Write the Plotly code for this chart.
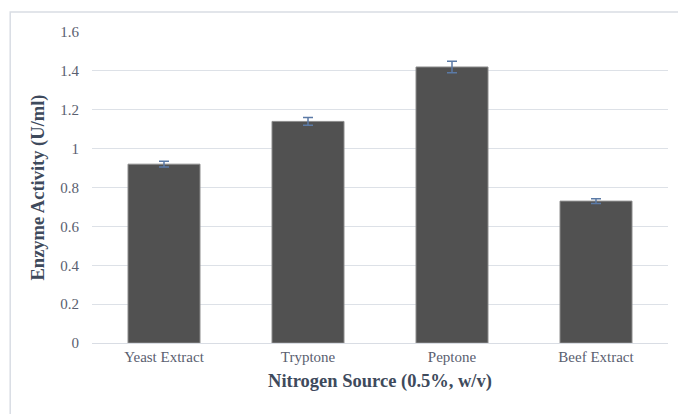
import plotly.graph_objects as go

categories = ["Yeast Extract", "Tryptone", "Peptone", "Beef Extract"]
activity = [0.92, 1.14, 1.42, 0.73]
errors = [0.015, 0.02, 0.03, 0.012]
y_ticks = [0, 0.2, 0.4, 0.6, 0.8, 1, 1.2, 1.4, 1.6]

font_family = "Liberation Serif, Times New Roman, serif"
text_color = "#5a6070"
title_color = "#3e4a5c"

fig = go.Figure()
fig.add_trace(go.Bar(
    x=categories, y=activity,
    marker=dict(color="#515151", line=dict(color="#8c8c8c", width=1)),
    width=0.5,
    error_y=dict(type="data", array=errors, visible=True,
                 color="#5b7aa6", thickness=1.5, width=5),
))

fig.update_layout(
    width=678, height=414,
    margin=dict(l=92, r=10, t=32, b=71),
    paper_bgcolor="white", plot_bgcolor="white",
    font=dict(family=font_family, color=text_color, size=15),
    showlegend=False,
    bargap=0.5,
    xaxis=dict(
        title=dict(text="<b>Nitrogen Source (0.5%, w/v)</b>",
                   font=dict(size=18.5, color=title_color), standoff=10),
        tickfont=dict(size=15, color=text_color),
        showline=True, linecolor="#d9dde4", linewidth=1,
        ticks="", showgrid=False,
    ),
    yaxis=dict(
        title=dict(text="<b>Enzyme Activity (U/ml)</b>",
                   font=dict(size=18.5, color=title_color), standoff=10),
        range=[0, 1.6], tickvals=y_ticks,
        tickfont=dict(size=15, color=text_color),
        gridcolor="#dde1e7", gridwidth=1.3,
        zeroline=False, showline=False, ticks="",
        ticklabelstandoff=12,
    ),
    shapes=[dict(type="rect", xref="paper", yref="paper",
                 x0=-0.142, x1=1.2, y0=-0.6, y1=1.064,
                 line=dict(color="#d9dde4", width=1.5), fillcolor="rgba(0,0,0,0)",
                 layer="below")],
)

fig.write_html("out.html")
